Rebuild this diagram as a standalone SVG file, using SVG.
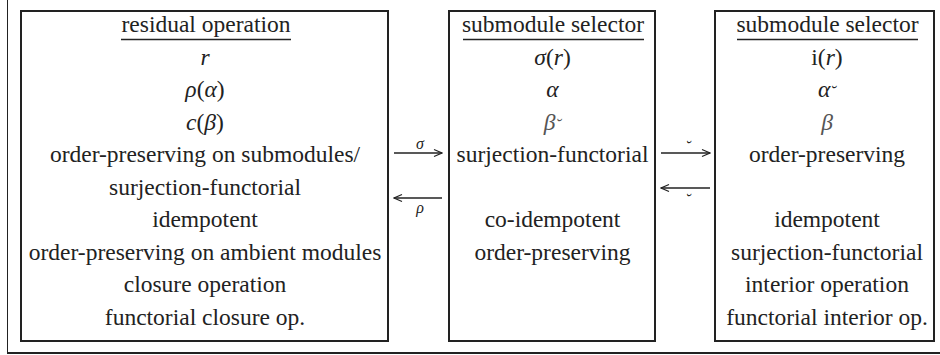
<svg xmlns="http://www.w3.org/2000/svg" width="940" height="355" viewBox="0 0 940 355" xml:lang="en">
<style>
.t{font-size:23.5px;fill:#222;text-anchor:middle}
.i{font-style:italic}
.b{fill:#555}
.br{font-size:17px}
.lbl{font-size:16px;fill:#222;text-anchor:middle;font-style:italic}
.box{fill:#fff;stroke:#222;stroke-width:2}
.ul{stroke:#222;stroke-width:1.5}
.c{stroke:#222;stroke-width:1.5;fill:none}
</style>
<defs>
<marker id="ah" viewBox="0 0 10 10" refX="9" refY="5" markerWidth="10" markerHeight="10" markerUnits="userSpaceOnUse" orient="auto">
<path d="M1,1.5 L9,5 L1,8.5" fill="none" stroke="#222" stroke-width="1.2"/>
</marker>
</defs>
<rect width="940" height="355" fill="#fff"/>
<g id="frame">
<line x1="7.5" y1="0" x2="7.5" y2="353.5" stroke="#222" stroke-width="1"/>
<line x1="7" y1="353" x2="940" y2="353" stroke="#222" stroke-width="1.8"/>
</g>
<g id="residual">
<rect class="box" x="21" y="11" width="367" height="330"/>
<text class="t" font-family="Liberation Serif, serif" x="206" y="32">residual operation</text>
<line class="ul" x1="121" y1="39.5" x2="291" y2="39.5"/>
<text class="t i" font-family="Liberation Serif, serif" x="205" y="64.5">r</text>
<text class="t" font-family="Liberation Serif, serif" x="205" y="97"><tspan class="i">ρ</tspan>(<tspan class="i">α</tspan>)</text>
<text class="t" font-family="Liberation Serif, serif" x="205" y="129.5"><tspan class="i">c</tspan>(<tspan class="i">β</tspan>)</text>
<text class="t" font-family="Liberation Serif, serif" x="205" y="162">order-preserving on submodules/</text>
<text class="t" font-family="Liberation Serif, serif" x="205" y="194.5">surjection-functorial</text>
<text class="t" font-family="Liberation Serif, serif" x="205" y="227">idempotent</text>
<text class="t" font-family="Liberation Serif, serif" x="205" y="259.5">order-preserving on ambient modules</text>
<text class="t" font-family="Liberation Serif, serif" x="205" y="292">closure operation</text>
<text class="t" font-family="Liberation Serif, serif" x="205" y="324.5">functorial closure op.</text>
</g>
<g id="selector1">
<rect class="box" x="449" y="11" width="206" height="330"/>
<text class="t" font-family="Liberation Serif, serif" x="553" y="32">submodule selector</text>
<line class="ul" x1="463" y1="39.5" x2="644" y2="39.5"/>
<text class="t" font-family="Liberation Serif, serif" x="552.5" y="64.5"><tspan class="i">σ</tspan>(<tspan class="i">r</tspan>)</text>
<text class="t i" font-family="Liberation Serif, serif" x="552.5" y="97">α</text>
<text class="t i b" font-family="Liberation Serif, serif" x="552.5" y="129.5">β<tspan class="br">˘</tspan></text>
<text class="t" font-family="Liberation Serif, serif" x="552.5" y="162">surjection-functorial</text>
<text class="t" font-family="Liberation Serif, serif" x="552.5" y="227">co-idempotent</text>
<text class="t" font-family="Liberation Serif, serif" x="552.5" y="259.5">order-preserving</text>
</g>
<g id="selector2">
<rect class="box" x="715" y="11" width="219" height="330"/>
<text class="t" font-family="Liberation Serif, serif" x="827.5" y="32">submodule selector</text>
<line class="ul" x1="737" y1="39.5" x2="918" y2="39.5"/>
<text class="t" font-family="Liberation Serif, serif" x="827" y="64.5">i(<tspan class="i">r</tspan>)</text>
<text class="t i" font-family="Liberation Serif, serif" x="827" y="97">α<tspan class="br">˘</tspan></text>
<text class="t i b" font-family="Liberation Serif, serif" x="827" y="129.5">β</text>
<text class="t" font-family="Liberation Serif, serif" x="827" y="162">order-preserving</text>
<text class="t" font-family="Liberation Serif, serif" x="827" y="227">idempotent</text>
<text class="t" font-family="Liberation Serif, serif" x="827" y="259.5">surjection-functorial</text>
<text class="t" font-family="Liberation Serif, serif" x="827" y="292">interior operation</text>
<text class="t" font-family="Liberation Serif, serif" x="827" y="324.5">functorial interior op.</text>
</g>
<g id="connectors">
<line class="c" x1="394" y1="153" x2="442" y2="153" marker-end="url(#ah)"/>
<text class="lbl" font-family="Liberation Serif, serif" x="420" y="149">σ</text>
<line class="c" x1="442" y1="198" x2="394" y2="198" marker-end="url(#ah)"/>
<text class="lbl" font-family="Liberation Serif, serif" x="420" y="213">ρ</text>
<line class="c" x1="661" y1="153" x2="710" y2="153" marker-end="url(#ah)"/>
<text class="lbl" font-family="Liberation Serif, serif" font-style="normal" x="688" y="152">˘</text>
<line class="c" x1="710" y1="188" x2="661" y2="188" marker-end="url(#ah)"/>
<text class="lbl" font-family="Liberation Serif, serif" font-style="normal" x="688" y="205">˘</text>
</g>
</svg>
